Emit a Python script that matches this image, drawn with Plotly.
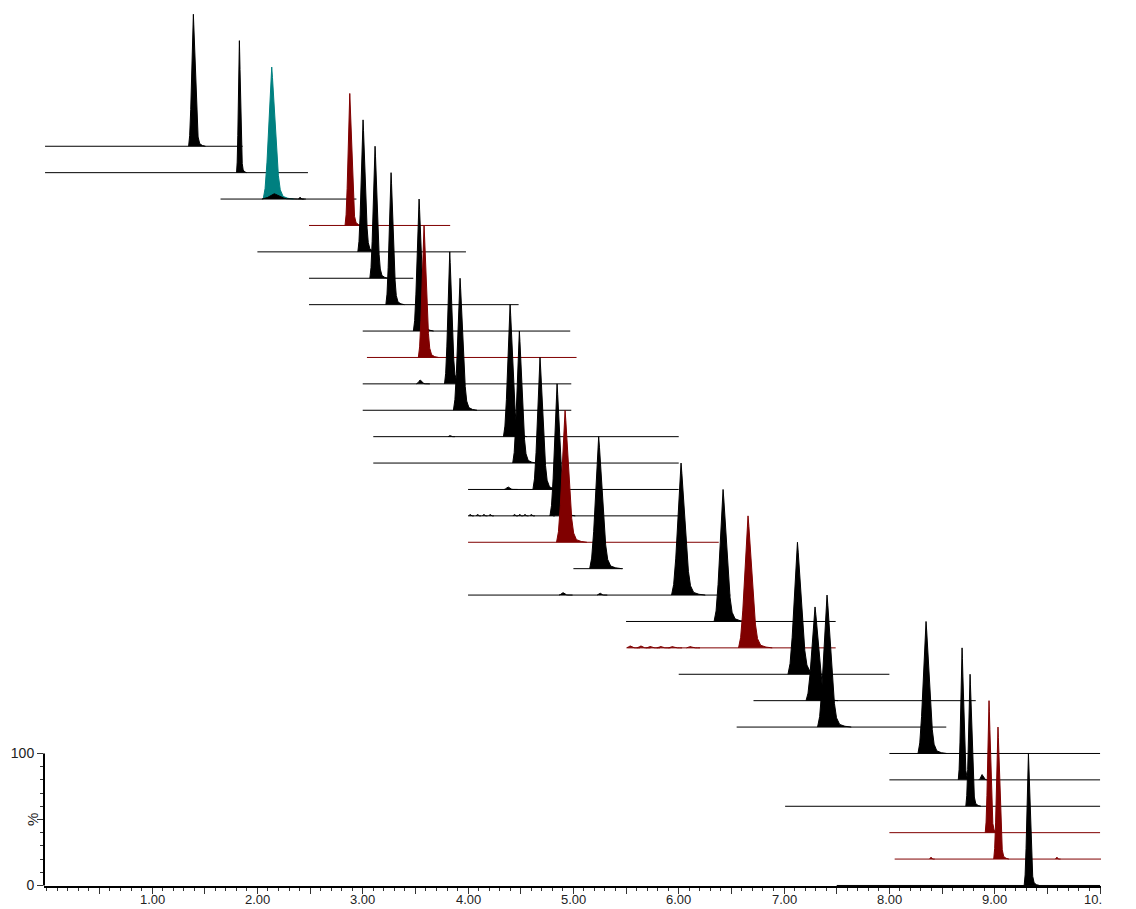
import plotly.graph_objects as go

# ---- data (trace 0 = bottom chromatogram, trace 28 = top) ----
offset_step = 20  # % offset between stacked chromatograms

apex_times = [9.320, 9.031, 8.946, 8.766, 8.690, 8.348, 7.408, 7.294, 7.127, 6.658,
              6.421, 6.022, 5.240, 4.921, 4.845, 4.683, 4.487, 4.399, 3.924, 3.826,
              3.582, 3.535, 3.269, 3.117, 3.003, 2.877, 2.136, 1.829, 1.392]
apex_heights = [100, 100, 100, 100, 100, 100, 100, 71, 100, 100,
                100, 100, 100, 100, 100, 100, 100, 100, 100, 100,
                100, 100, 100, 100, 100, 100, 100, 100, 100]
peak_width_scale = [0.45, 0.45, 0.40, 0.45, 0.40, 0.85, 1.00, 0.95, 1.00, 1.00,
                    0.95, 1.00, 0.95, 0.90, 0.75, 0.75, 0.70, 0.70, 0.70, 0.55,
                    0.60, 0.60, 0.55, 0.55, 0.55, 0.50, 0.90, 0.30, 0.50]
trace_start = [7.50, 8.05, 8.00, 7.01, 8.00, 8.00, 6.55, 6.71, 6.00, 5.51,
               5.50, 4.00, 5.00, 4.00, 4.00, 4.00, 3.10, 3.10, 3.00, 3.00,
               3.04, 3.00, 2.49, 2.49, 2.00, 2.49, 1.65, -0.016, -0.016]
trace_end = [10.0, 10.03, 10.0, 10.0, 10.0, 10.0, 8.54, 8.82, 8.00, 7.49,
             7.49, 6.49, 5.47, 6.38, 6.00, 6.00, 6.00, 6.00, 4.98, 4.98,
             5.03, 4.97, 4.48, 3.48, 3.98, 3.83, 2.94, 2.48, 1.86]
trace_kind = ["k", "r", "r", "k", "k", "k", "k", "k", "k", "r",
              "k", "k", "k", "r", "k", "k", "k", "k", "k", "k",
              "r", "k", "k", "k", "k", "r", "t", "k", "k"]
baseline_kind = ["k", "r", "r", "k", "k", "k", "k", "k", "k", "r",
                 "k", "k", "k", "r", "k", "k", "k", "k", "k", "k",
                 "r", "k", "k", "k", "k", "r", "k", "k", "k"]

# shared peak profile (time offset from apex in min, fraction of height)
profile_dt = [-0.090, -0.070, -0.050, -0.032, -0.018, -0.008, 0.000, 0.008, 0.020, 0.035,
              0.050, 0.070, 0.090, 0.120, 0.170, 0.230]
profile_frac = [0.0, 0.08, 0.28, 0.55, 0.78, 0.92, 1.00, 0.92, 0.78, 0.58,
                0.38, 0.18, 0.07, 0.02, 0.006, 0.0]

# small secondary bumps: trace index, time, height %, width scale, colour kind
minor_trace = [26, 26, 19, 17, 15, 11, 11, 4, 1, 1,
               14, 14, 14, 14, 14, 14, 14, 14, 14,
               9, 9, 9, 9, 9, 9]
minor_time = [2.160, 2.405, 3.545, 3.829, 4.379, 4.900, 5.253, 8.880, 8.395, 9.590,
              4.020, 4.090, 4.150, 4.210, 4.440, 4.490, 4.540, 4.600, 4.790,
              5.540, 5.640, 5.730, 5.830, 5.940, 6.110]
minor_height = [4.0, 1.5, 3.0, 1.0, 2.0, 2.0, 1.5, 4.0, 1.5, 1.5,
                1.2, 1.2, 1.2, 1.2, 1.2, 1.2, 1.2, 1.2, 1.2,
                1.5, 1.5, 1.2, 1.2, 1.0, 1.0]
minor_width = [1.30, 0.15, 0.40, 0.20, 0.40, 0.40, 0.30, 0.35, 0.15, 0.15,
               0.15, 0.15, 0.15, 0.15, 0.15, 0.15, 0.15, 0.15, 0.15,
               0.40, 0.40, 0.40, 0.40, 0.40, 0.40]
minor_kind = ["k", "k", "k", "k", "k", "k", "k", "k", "r", "r",
              "k", "k", "k", "k", "k", "k", "k", "k", "k",
              "r", "r", "r", "r", "r", "r"]

x_major_ticks = [0.5 * i for i in range(1, 21)]
x_label_values = [1, 2, 3, 4, 5, 6, 7, 8, 9, 10]
x_label_text = ["1.00", "2.00", "3.00", "4.00", "5.00", "6.00", "7.00", "8.00", "9.00",
                "10.\u2007\u2007"]

colors = {"k": "#000000", "r": "#800000", "t": "#008080"}

fig = go.Figure()

# draw top trace first so lower traces sit in front
for k in range(len(apex_times) - 1, -1, -1):
    off = k * offset_step
    rt, h, w = apex_times[k], apex_heights[k], peak_width_scale[k]
    c = colors[trace_kind[k]]
    bc = colors[baseline_kind[k]]
    fig.add_trace(go.Scatter(x=[trace_start[k], trace_end[k]], y=[off, off], mode="lines",
                             line=dict(color=bc, width=1), hoverinfo="skip",
                             showlegend=False))
    xs = [rt + d * w for d in profile_dt]
    ys = [off + h * f for f in profile_frac]
    fig.add_trace(go.Scatter(x=xs, y=ys, mode="lines", fill="toself", fillcolor=c,
                             line=dict(color=c, width=1), hoverinfo="skip",
                             showlegend=False))
    for j in range(len(minor_trace)):
        if minor_trace[j] != k:
            continue
        mc = colors[minor_kind[j]]
        mx = [minor_time[j] + d * minor_width[j] for d in profile_dt]
        my = [off + minor_height[j] * f for f in profile_frac]
        fig.add_trace(go.Scatter(x=mx, y=my, mode="lines", fill="toself", fillcolor=mc,
                                 line=dict(color=mc, width=1), hoverinfo="skip",
                                 showlegend=False))

font_family = "Liberation Sans, Arial"

fig.update_layout(
    width=1136, height=909,
    margin=dict(l=44, r=35, t=0, b=23),
    paper_bgcolor="white", plot_bgcolor="white",
    showlegend=False,
    font=dict(family=font_family, size=13, color="#222222"),
    xaxis=dict(range=[-0.026, 10.009], showgrid=False, zeroline=False,
               showline=True, linecolor="#000000", linewidth=2,
               tickmode="array", tickvals=x_major_ticks, showticklabels=False,
               ticks="outside", ticklen=6, tickwidth=1, tickcolor="#333333",
               minor=dict(tickmode="linear", tick0=0, dtick=0.1, ticks="outside",
                          ticklen=3, tickwidth=1, tickcolor="#333333"),
               automargin=False, fixedrange=True),
    yaxis=dict(range=[-0.4, 670.8], showgrid=False, zeroline=False, showline=False,
               tickmode="array", tickvals=[0, 50, 100], ticktext=["0", "", "100"],
               ticks="outside", ticklen=6, tickwidth=1, tickcolor="#333333",
               tickfont=dict(size=14),
               minor=dict(tickmode="array", tickvals=[10, 20, 30, 40, 60, 70, 80, 90],
                          ticks="outside", ticklen=3, tickwidth=1, tickcolor="#333333"),
               automargin=False, fixedrange=True),
)

for v, t in zip(x_label_values, x_label_text):
    fig.add_annotation(text=t, xref="x", yref="paper", x=v, y=0, yanchor="top",
                       yshift=-5, showarrow=False, borderpad=0,
                       font=dict(family=font_family, size=13, color="#222222"))

fig.add_shape(type="line", xref="paper", yref="y", x0=0, x1=0, y0=0, y1=100,
              line=dict(color="#000000", width=2))
fig.add_annotation(text="%", xref="paper", yref="y", x=0, y=50, xshift=-22,
                   textangle=-90, showarrow=False,
                   font=dict(family=font_family, size=15, color="#222222"))

fig.write_html("out.html")
